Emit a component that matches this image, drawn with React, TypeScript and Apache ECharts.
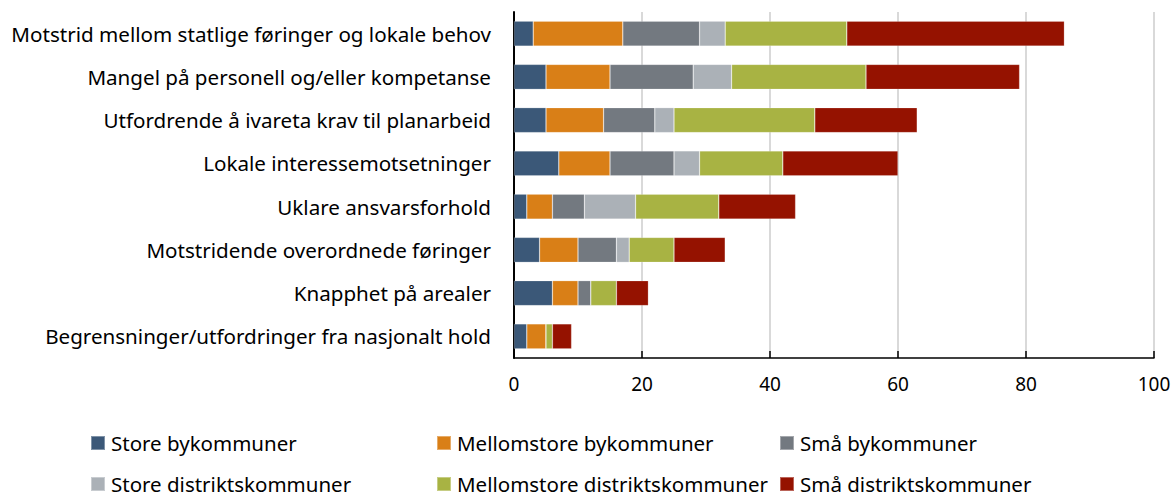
import React, { useEffect, useRef } from "react";
import * as echarts from "echarts";

const categories = [
  "Motstrid mellom statlige føringer og lokale behov",
  "Mangel på personell og/eller kompetanse",
  "Utfordrende å ivareta krav til planarbeid",
  "Lokale interessemotsetninger",
  "Uklare ansvarsforhold",
  "Motstridende overordnede føringer",
  "Knapphet på arealer",
  "Begrensninger/utfordringer fra nasjonalt hold",
];

const seriesNames = [
  "Store bykommuner",
  "Mellomstore bykommuner",
  "Små bykommuner",
  "Store distriktskommuner",
  "Mellomstore distriktskommuner",
  "Små distriktskommuner",
];

const storeBy = [3, 5, 5, 7, 2, 4, 6, 2];
const mellomstoreBy = [14, 10, 9, 8, 4, 6, 4, 3];
const smaBy = [12, 13, 8, 10, 5, 6, 2, 0];
const storeDistrikt = [4, 6, 3, 4, 8, 2, 0, 0];
const mellomstoreDistrikt = [19, 21, 22, 13, 13, 7, 4, 1];
const smaDistrikt = [34, 24, 16, 18, 12, 8, 5, 3];

const seriesValues = [storeBy, mellomstoreBy, smaBy, storeDistrikt, mellomstoreDistrikt, smaDistrikt];
const colors = ["#3B5878", "#D97F17", "#737980", "#ABB1B7", "#A8B343", "#951200"];

const xTicks = { min: 0, max: 100, interval: 20 };

const FONT = "'Noto Sans', sans-serif";

export default function App() {
  const ref = useRef<HTMLDivElement>(null);
  useEffect(() => {
    if (!ref.current) return;
    const chart = echarts.init(ref.current, undefined, { renderer: "svg" });
    const legendPos = [
      { left: 90, top: 432 },
      { left: 436, top: 432 },
      { left: 779, top: 432 },
      { left: 90, top: 473 },
      { left: 436, top: 473 },
      { left: 779, top: 473 },
    ];
    chart.setOption({
      animation: false,
      grid: { left: 514, top: 12, width: 640, height: 346, containLabel: false },
      legend: seriesNames.map((n, i) => ({
        data: [n],
        left: legendPos[i].left,
        top: legendPos[i].top,
        padding: 0,
        icon: "rect",
        itemWidth: 14,
        itemHeight: 14,
        selectedMode: false,
        textStyle: { fontFamily: FONT, fontSize: 20.5, color: "#000", lineHeight: 22, padding: [0, 0, 0, 1] },
      })),
      xAxis: {
        type: "value",
        min: xTicks.min,
        max: xTicks.max,
        interval: xTicks.interval,
        axisLine: { show: true, lineStyle: { color: "#000", width: 1.5 } },
        axisTick: { show: true, inside: true, length: 7, lineStyle: { color: "#000", width: 1.5 } },
        splitLine: { show: true, lineStyle: { color: "#D9D9D9", width: 2 } },
        axisLabel: { fontFamily: FONT, fontSize: 19, color: "#000", margin: 16 },
      },
      yAxis: {
        type: "category",
        data: categories,
        inverse: true,
        axisLine: { show: true, lineStyle: { color: "#000", width: 2 } },
        axisTick: { show: false },
        axisLabel: { fontFamily: FONT, fontSize: 20.6, color: "#000", margin: 23 },
      },
      series: seriesNames.map((n, i) => ({
        name: n,
        type: "bar",
        stack: "total",
        barWidth: 25,
        data: seriesValues[i],
        itemStyle: { color: colors[i], borderColor: "rgba(255,255,255,0.35)", borderWidth: 0.6 },
      })),
    });
    return () => chart.dispose();
  }, []);
  return (
    <div
      ref={ref}
      style={{ position: "fixed", left: 0, top: 0, width: 1174, height: 498, background: "#fff" }}
    />
  );
}
